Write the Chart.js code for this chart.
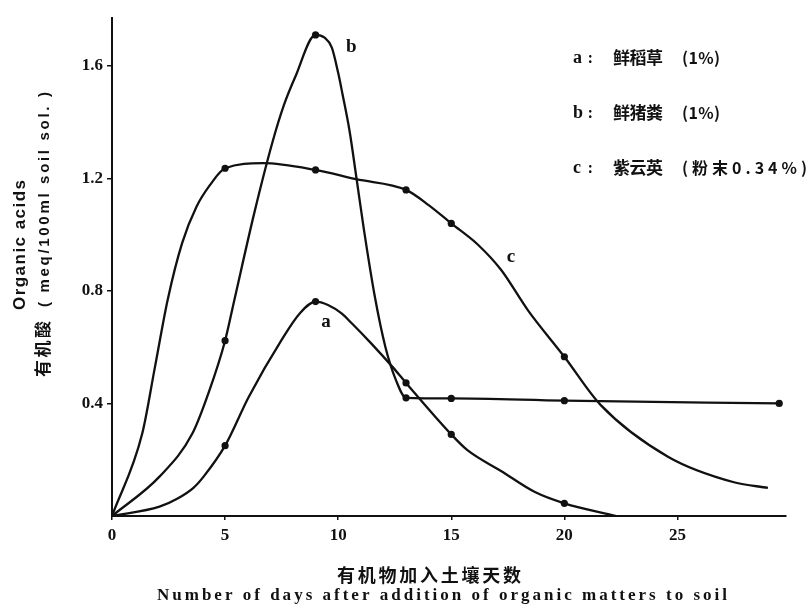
<!DOCTYPE html>
<html>
<head>
<meta charset="utf-8">
<title>有机酸</title>
<script src="https://cdn.jsdelivr.net/npm/chart.js"></script>
<style>
  html, body { margin: 0; padding: 0; background: #fff; }
  canvas { display: block; }
</style>
</head>
<body>
<canvas id="acidChart" width="811" height="609"></canvas>
<script>
// days after addition (x) and organic acids in meq/100ml soil sol. (y)
const aDays = [0, 2.1, 2.9, 3.6, 4.05, 5, 6.05, 7.5, 8.3, 9, 9.55, 10.15, 10.6, 11.5, 12.4, 13, 15, 15.7, 17.2, 18.7, 20, 22.3];
const aVals = [0, 0.033, 0.062, 0.1, 0.14, 0.25, 0.424, 0.626, 0.72, 0.762, 0.75, 0.72, 0.685, 0.61, 0.53, 0.473, 0.29, 0.235, 0.16, 0.085, 0.045, 0];
const aMarks = [5, 9, 13, 15, 20];

const bDays = [0, 2.1, 3.56, 4.28, 5, 5.41, 6.3, 7.1, 7.6, 8.1, 9, 9.4, 9.72, 10, 10.19, 10.5, 10.82, 11.14, 11.62, 12.09, 12.55, 13, 15, 20, 29.5];
const bVals = [0, 0.14, 0.294, 0.44, 0.623, 0.768, 1.08, 1.33, 1.46, 1.56, 1.71, 1.70, 1.665, 1.575, 1.50, 1.37, 1.195, 1.017, 0.78, 0.60, 0.484, 0.42, 0.418, 0.41, 0.40];
const bMarks = [5, 9, 13, 15, 20, 29.5];

const cDays = [0, 1.34, 1.9, 2.46, 3.1, 3.74, 4.32, 5, 6.67, 9, 10.8, 13, 14, 15, 16.17, 17.2, 18.4, 20, 21.6, 24.6, 27.5, 29];
const cVals = [0, 0.294, 0.53, 0.768, 0.97, 1.10, 1.175, 1.236, 1.254, 1.23, 1.197, 1.159, 1.105, 1.04, 0.965, 0.875, 0.73, 0.566, 0.395, 0.21, 0.12, 0.10];
const cMarks = [5, 9, 13, 15, 20];

const xTicks = [0, 5, 10, 15, 20, 25];
const yTicks = [0.4, 0.8, 1.2, 1.6];

const legendRows = [
    { key: 'a', name: '鲜稻草', note: '(1%)' },
    { key: 'b', name: '鲜猪粪', note: '(1%)' },
    { key: 'c', name: '紫云英', note: '(粉末0.34%)' }
];

const INK = '#111';
const serif = '"Liberation Serif", "DejaVu Serif", serif';
const sans = '"Liberation Sans", Arial, sans-serif';
const cjk = '"Noto Sans CJK SC", "Noto Sans", sans-serif';

const toPoints = (days, vals) => days.map((d, i) => ({ x: d, y: vals[i] }));

function curve(label, days, vals, marks) {
    return {
        label: label,
        data: toPoints(days, vals),
        borderColor: INK,
        borderWidth: 2.3,
        pointRadius: ctx => marks.includes(ctx.raw.x) ? 3.6 : 0,
        pointBackgroundColor: INK,
        pointBorderWidth: 0,
        cubicInterpolationMode: 'monotone',
        clip: false
    };
}

// spread the letters so a string fills a given width (the print is widely spaced)
function fitText(ctx, text, x, y, width) {
    ctx.letterSpacing = '0px';
    const natural = ctx.measureText(text).width;
    const gap = text.length > 1 ? (width - natural) / (text.length - 1) : 0;
    ctx.letterSpacing = gap + 'px';
    ctx.fillText(text, x, y);
    ctx.letterSpacing = '0px';
}

// --- labels next to the curves, the key in the corner and the two axis titles ---
const figureText = {
    id: 'figureText',
    afterDraw(chart) {
        const { ctx, chartArea: area, scales: { x, y } } = chart;
        ctx.save();
        ctx.fillStyle = INK;
        ctx.textAlign = 'left';
        ctx.textBaseline = 'middle';

        ctx.font = 'bold 19px ' + serif;
        [['a', 9.25, 0.69], ['b', 10.35, 1.667], ['c', 17.45, 0.92]].forEach(([t, d, v]) => {
            ctx.fillText(t, x.getPixelForValue(d), y.getPixelForValue(v));
        });

        legendRows.forEach((row, i) => {
            const ly = area.top + 40 + i * 55;
            ctx.font = 'bold 18px ' + serif;
            ctx.fillText(row.key, area.left + 461, ly);
            ctx.font = 'bold 14px ' + cjk;
            ctx.fillText(':', area.left + 476, ly);
            ctx.font = 'bold 17px ' + cjk;
            fitText(ctx, row.name, area.left + 501, ly, 50);
            ctx.font = 'bold 16px ' + cjk;
            fitText(ctx, row.note, area.left + 570, ly, row.note.length > 4 ? 125 : 38);
        });

        // x title, two lines
        ctx.font = 'bold 18px ' + cjk;
        fitText(ctx, '有机物加入土壤天数', 337, 575, 184);
        ctx.font = 'bold 17px ' + serif;
        fitText(ctx, 'Number of days after addition of organic matters to soil', 157, 596, 570);

        // y title, two rotated lines
        const rotated = (text, cx, startY, width) => {
            ctx.save();
            ctx.translate(cx, startY);
            ctx.rotate(-Math.PI / 2);
            fitText(ctx, text, 0, 0, width);
            ctx.restore();
        };
        ctx.font = 'bold 17px ' + sans;
        rotated('Organic acids', 20, 310, 130);
        ctx.font = 'bold 17px ' + cjk;
        rotated('有机酸', 43, 377, 56);
        ctx.font = 'bold 15px ' + sans;
        rotated('( meq/100ml soil sol. )', 45, 307, 215);
        ctx.restore();
    }
};

const ctxAcid = document.getElementById('acidChart').getContext('2d');
new Chart(ctxAcid, {
    type: 'line',
    data: {
        datasets: [
            curve('a', aDays, aVals, aMarks),
            curve('b', bDays, bVals, bMarks),
            curve('c', cDays, cVals, cMarks)
        ]
    },
    options: {
        responsive: false,
        animation: false,
        layout: { padding: { top: 18, right: 25, left: 0, bottom: 0 } },
        plugins: { legend: { display: false }, tooltip: { enabled: false } },
        scales: {
            x: {
                type: 'linear', min: 0, max: 29.8,
                border: { color: INK, width: 2 },
                grid: { drawOnChartArea: false, color: INK, tickLength: 4, lineWidth: 1.5 },
                ticks: {
                    color: INK, padding: 5, maxRotation: 0,
                    font: { family: serif, size: 17, weight: 'bold' },
                    callback: v => String(v)
                },
                afterBuildTicks: s => { s.ticks = xTicks.map(v => ({ value: v })); },
                afterFit: s => { s.height = 93; s.paddingLeft = 0; s.paddingRight = 0; }
            },
            y: {
                min: 0, max: 1.77,
                border: { color: INK, width: 2 },
                grid: { drawOnChartArea: false, color: INK, tickLength: 5, lineWidth: 1.5 },
                ticks: {
                    color: INK, padding: 4,
                    font: { family: serif, size: 17, weight: 'bold' },
                    callback: v => v.toFixed(1)
                },
                afterBuildTicks: s => { s.ticks = yTicks.map(v => ({ value: v })); },
                afterFit: s => { s.width = 112; s.paddingTop = 0; s.paddingBottom = 0; }
            }
        }
    },
    plugins: [figureText]
});
</script>
</body>
</html>
